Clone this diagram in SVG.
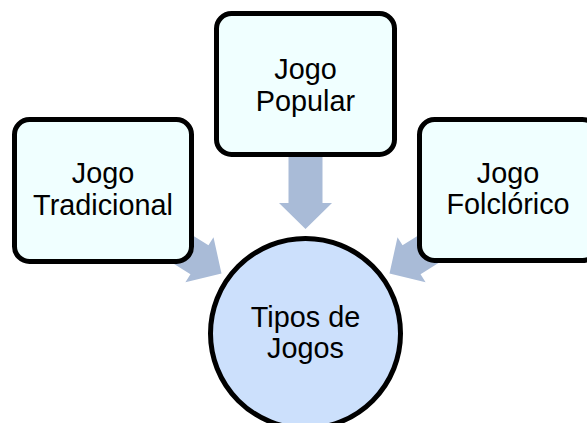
<svg xmlns="http://www.w3.org/2000/svg" width="587" height="423" viewBox="0 0 587 423">
<defs>
<style>
.box{fill:#F0FFFF;stroke:#000;stroke-width:5}
.circ{fill:#CCE0FC;stroke:#000;stroke-width:5}
.arr{fill:#A9BBD7}
.t{font-family:"Liberation Sans",Arial,sans-serif;font-size:28.8px;fill:#000;text-anchor:middle}
</style>
<path id="arrowShape" d="M0,0 L-26,-26.5 L-26,-17 L-90,-17 L-90,17 L-26,17 L-26,26.5 Z"/>
</defs>
<rect width="587" height="423" fill="#fff"/>
<g id="connectors">
<use href="#arrowShape" class="arr" transform="translate(305.5,229) rotate(90)"/>
<use href="#arrowShape" class="arr" transform="translate(221.5,273.5) rotate(32)"/>
<use href="#arrowShape" class="arr" transform="translate(389.5,273.5) rotate(148)"/>
</g>
<g id="node-tradicional">
<rect class="box" x="14.5" y="119.5" width="177" height="142" rx="15"/>
<text class="t" x="103" y="183">Jogo</text>
<text class="t" x="103" y="215">Tradicional</text>
</g>
<g id="node-popular">
<rect class="box" x="216.5" y="13.5" width="178" height="141" rx="15"/>
<text class="t" x="305.5" y="79">Jogo</text>
<text class="t" x="305.5" y="111">Popular</text>
</g>
<g id="node-folclorico">
<rect class="box" x="419.5" y="119.5" width="178" height="141" rx="15"/>
<text class="t" x="508" y="183">Jogo</text>
<text class="t" x="508" y="214">Folclórico</text>
</g>
<g id="node-tipos">
<circle class="circ" cx="305.5" cy="333.5" r="95"/>
<text class="t" x="305.5" y="327">Tipos de</text>
<text class="t" x="305.5" y="358">Jogos</text>
</g>
</svg>
